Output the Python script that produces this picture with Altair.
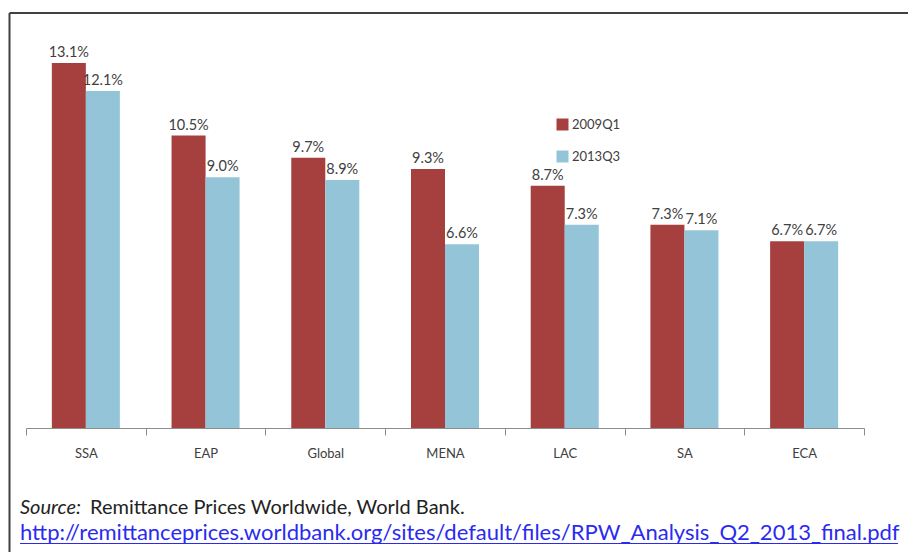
import altair as alt
import pandas as pd

regions = ["SSA", "EAP", "Global", "MENA", "LAC", "SA", "ECA"]
series = ["2009Q1", "2013Q3"]
v2009 = [13.1, 10.5, 9.7, 9.3, 8.7, 7.3, 6.7]
v2013 = [12.1, 9.0, 8.9, 6.6, 7.3, 7.1, 6.7]
colors = ["#A5403E", "#93C4D7"]
source_label = "Source:"
source_text = "Remittance Prices Worldwide, World Bank."
url = "http://remittanceprices.worldbank.org/sites/default/files/RPW_Analysis_Q2_2013_final.pdf"

rows = []
for r, a, b in zip(regions, v2009, v2013):
    rows.append({"region": r, "series": series[0], "value": a, "label": f"{a:.1f}%"})
    rows.append({"region": r, "series": series[1], "value": b, "label": f"{b:.1f}%"})
df = pd.DataFrame(rows)

FONT = "Lato"
W, H = 838, 390

base = alt.Chart(df).encode(
    x=alt.X("region:N", sort=regions,
            scale=alt.Scale(paddingInner=0, paddingOuter=0),
            axis=alt.Axis(title=None, labelAngle=0, tickBand="extent", grid=False,
                          domainColor="#8c8c8c", tickColor="#8c8c8c", tickSize=7,
                          labelFont=FONT, labelFontSize=13, labelColor="#404040",
                          labelPadding=12)),
    xOffset=alt.XOffset("series:N", sort=series,
                        scale=alt.Scale(paddingInner=0, paddingOuter=0.76)),
    y=alt.Y("value:Q", scale=alt.Scale(domain=[0, 14]), axis=None),
)

bars = base.mark_bar().encode(
    color=alt.Color("series:N", sort=series,
                    scale=alt.Scale(domain=series, range=colors),
                    legend=alt.Legend(title=None, orient="none", legendX=530, legendY=80,
                                      symbolType="square", symbolSize=144,
                                      symbolStrokeWidth=0, rowPadding=18,
                                      labelFont=FONT, labelFontSize=13,
                                      labelColor="#404040", labelOffset=3,
                                      padding=0))
)

labels = base.mark_text(dy=-6, baseline="alphabetic", align="center",
                        font=FONT, fontSize=14.5, color="#404040").encode(text="label:N")

one = pd.DataFrame({"t": [0]})

frame_left = alt.Chart(one).mark_rule(color="#404040", strokeWidth=2).encode(
    x=alt.value(-16.5), y=alt.value(-25), y2=alt.value(514))
frame_top = alt.Chart(one).mark_rule(color="#404040", strokeWidth=2).encode(
    x=alt.value(-16.5), x2=alt.value(884), y=alt.value(-25))

src1 = alt.Chart(pd.DataFrame({"t": [source_label]})).mark_text(
    align="left", baseline="middle", font=FONT, fontSize=20, fontStyle="italic",
    color="#222222").encode(text="t:N", x=alt.value(-6), y=alt.value(470))
src2 = alt.Chart(pd.DataFrame({"t": [source_text]})).mark_text(
    align="left", baseline="middle", font=FONT, fontSize=20,
    color="#222222").encode(text="t:N", x=alt.value(64), y=alt.value(470))
link = alt.Chart(pd.DataFrame({"t": [url]})).mark_text(
    align="left", baseline="middle", font=FONT, fontSize=22,
    color="#2B2BF0").encode(text="t:N", x=alt.value(-6), y=alt.value(495))
underline = alt.Chart(one).mark_rule(color="#2B2BF0", strokeWidth=1).encode(
    x=alt.value(-6), x2=alt.value(872), y=alt.value(505.5))

chart = alt.layer(frame_left, frame_top, bars, labels, src1, src2, link, underline).properties(
    width=W, height=H,
    background="white",
    autosize=alt.AutoSizeParams(type="none"),
    padding={"left": 18, "top": 30, "right": 44, "bottom": 124},
).configure_view(strokeWidth=0, stroke="transparent")

chart.save("out.html", embed_options={"renderer": "svg", "actions": False})
